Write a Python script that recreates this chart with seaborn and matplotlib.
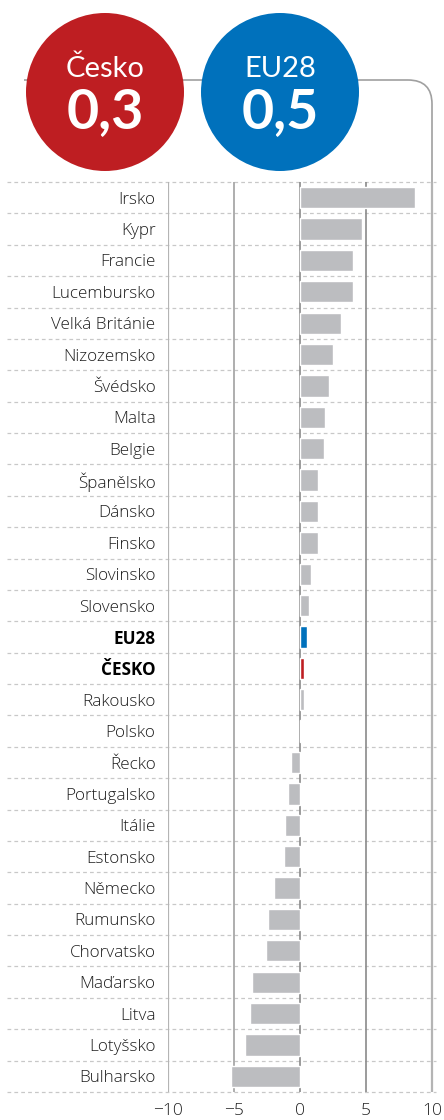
import matplotlib
matplotlib.use("Agg")
import matplotlib.pyplot as plt
import seaborn as sns
import pandas as pd
from matplotlib.patches import Circle, PathPatch
from matplotlib.path import Path

# Data
countries = ["Irsko", "Kypr", "Francie", "Lucembursko", "Velká Británie", "Nizozemsko",
             "Švédsko", "Malta", "Belgie", "Španělsko", "Dánsko", "Finsko", "Slovinsko",
             "Slovensko", "EU28", "ČESKO", "Rakousko", "Polsko", "Řecko", "Portugalsko",
             "Itálie", "Estonsko", "Německo", "Rumunsko", "Chorvatsko", "Maďarsko",
             "Litva", "Lotyšsko", "Bulharsko"]
values = [8.7, 4.7, 4.0, 4.0, 3.1, 2.5, 2.2, 1.9, 1.8, 1.4, 1.4, 1.4, 0.8, 0.7,
          0.5, 0.3, 0.3, 0.1, -0.7, -0.9, -1.1, -1.2, -2.0, -2.4, -2.6, -3.6,
          -3.8, -4.2, -5.2]
x_ticks = [-10, -5, 0, 5, 10]
badges = [("Česko", "0,3"), ("EU28", "0,5")]

GRAY = "#bcbdc0"
RED = "#be1e22"
BLUE = "#0071bc"
highlight = {"EU28": BLUE, "ČESKO": RED}

df = pd.DataFrame({"country": countries, "value": values})
palette = {c: highlight.get(c, GRAY) for c in countries}

sns.set_theme(style="white")
plt.rcParams["font.family"] = ["Open Sans", "DejaVu Sans"]

W, H = 444, 1120
fig = plt.figure(figsize=(W / 100, H / 100), dpi=100)
# axes in pixel terms: x -10 at 168, 10 at 432 ; y rows from 182 to 1092
px_unit = (432 - 168) / 20
x_right = 10.3
ax_left, ax_right = 168, 168 + (x_right + 10) * px_unit
ax_top, ax_bot = 182, 1092
ax = fig.add_axes([ax_left / W, 1 - ax_bot / H, (ax_right - ax_left) / W, (ax_bot - ax_top) / H])

sns.barplot(data=df, x="value", y="country", hue="country", palette=palette,
            orient="h", width=0.68, legend=False, ax=ax, saturation=1, zorder=3)

ax.set_xlim(-10, x_right)
ax.set_ylim(len(countries) - 0.5, -0.5)
for s in ax.spines.values():
    s.set_visible(False)
ax.set_xlabel("")
ax.set_ylabel("")

# dashed row separators
for i in range(len(countries) + 1):
    ax.axhline(i - 0.5, xmin=-0.6, xmax=1.0, color="#c8c8c8", lw=0.9,
               ls=(0, (3, 2.5)), clip_on=False, zorder=1)

# vertical grid lines
for t in x_ticks:
    if t in (-10, 10):
        ax.axvline(t, color="#b4b4b4", lw=1.6, zorder=2)
    elif t == -5:
        ax.axvline(t, color="#a8a8a8", lw=1.3, zorder=2)
    else:
        ax.axvline(t, color="#8a8a8a", lw=1.2, zorder=2)

ax.set_xticks(x_ticks)
ax.set_xticklabels([str(t).replace("-", "\u2212") for t in x_ticks], fontsize=12.5,
                   color="#222222", fontweight="light")
ax.tick_params(axis="x", length=0, pad=8)
ax.tick_params(axis="y", length=0, pad=9)
for lab in ax.get_yticklabels():
    txt = lab.get_text()
    lab.set_fontsize(12.3)
    if txt in highlight:
        lab.set_fontweight("bold")
        lab.set_color("black")
    else:
        lab.set_fontweight("light")
        lab.set_color("#1e1e1e")

# top frame line with rounded corner (pixel coords -> inches)
def P(x, y):
    return (x / 100, (H - y) / 100)

r = 24
verts = [P(24, 80), P(432 - r, 80), P(432, 80), P(432, 80 + r), P(432, ax_top)]
codes = [Path.MOVETO, Path.LINETO, Path.CURVE3, Path.CURVE3, Path.LINETO]
frame = PathPatch(Path(verts, codes), transform=fig.dpi_scale_trans, fill=False,
                  edgecolor="#a0a0a0", lw=1.2, zorder=1)
fig.add_artist(frame)

# badges
centers = [(105, 92), (280, 92)]
colors = [RED, BLUE]
for (cx, cy), col, (name, val) in zip(centers, colors, badges):
    fig.add_artist(Circle(P(cx, cy), 79 / 100, transform=fig.dpi_scale_trans,
                          facecolor=col, edgecolor="none", zorder=5))
    fx = cx / W
    fig.text(fx, 1 - 69 / H, name, color="white", fontsize=21, ha="center", va="center",
             family=["Lato", "DejaVu Sans"], zorder=6)
    fig.text(fx, 1 - 112 / H, val, color="white", fontsize=40, fontweight="bold",
             ha="center", va="center", family=["Lato", "DejaVu Sans"], zorder=6)

fig.savefig("out.png", dpi=100)
